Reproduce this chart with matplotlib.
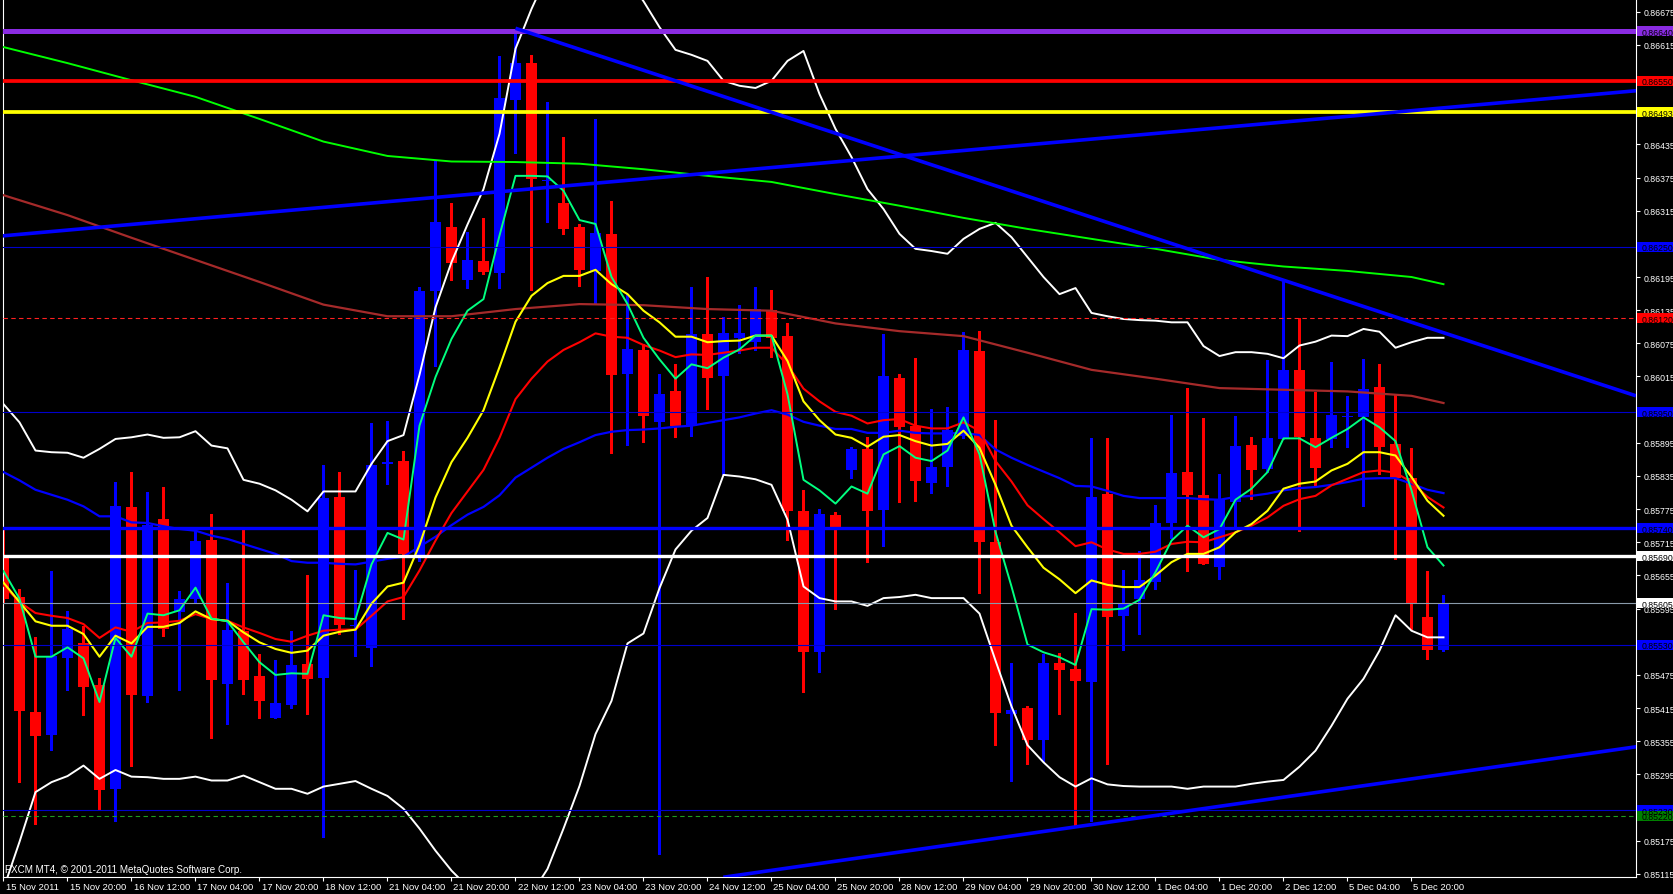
import matplotlib
matplotlib.use("Agg")
import matplotlib.pyplot as plt
from matplotlib.patches import Rectangle
from matplotlib.transforms import offset_copy
import numpy as np

plt.rcParams["font.family"] = ["Liberation Sans", "DejaVu Sans"]

# ---- H4 candles, 15 Nov 2011 .. 6 Dec 2011 ----
opens = [
    0.85690, 0.85616, 0.85408, 0.85367, 0.85506, 0.85532, 0.85457, 0.85268, 0.85779, 0.85436,
    0.85757, 0.85588, 0.85613, 0.85719, 0.85459, 0.85555, 0.85473, 0.85397, 0.85420, 0.85495,
    0.85469, 0.85797, 0.85564, 0.85523, 0.85857, 0.85862, 0.85692, 0.86170, 0.86286, 0.86190,
    0.86224, 0.86203, 0.86515, 0.86582, 0.86368, 0.86329, 0.86286, 0.86206, 0.86273, 0.86020,
    0.86063, 0.85932, 0.85988, 0.85926, 0.86091, 0.86015, 0.86085, 0.86077, 0.86135, 0.86089,
    0.85772, 0.85517, 0.85765, 0.85846, 0.85883, 0.85774, 0.86013, 0.85926, 0.85823, 0.85851,
    0.85907, 0.86061, 0.85716, 0.85405, 0.85416, 0.85358, 0.85496, 0.85485, 0.85462, 0.85802,
    0.85581, 0.85613, 0.85643, 0.85750, 0.85842, 0.85801, 0.85671, 0.85788, 0.85891, 0.85847,
    0.85902, 0.86027, 0.85904, 0.85902, 0.85942, 0.85941, 0.85996, 0.85893, 0.85831, 0.85579,
    0.85520]
highs = [
    0.85739, 0.85631, 0.85544, 0.85663, 0.85591, 0.85564, 0.85469, 0.85824, 0.85842, 0.85806,
    0.85815, 0.85627, 0.85736, 0.85766, 0.85642, 0.85738, 0.85513, 0.85502, 0.85555, 0.85656,
    0.85855, 0.85842, 0.85664, 0.85931, 0.85934, 0.85880, 0.86177, 0.86405, 0.86329, 0.86276,
    0.86301, 0.86594, 0.86637, 0.86597, 0.86512, 0.86449, 0.86291, 0.86481, 0.86332, 0.86164,
    0.86074, 0.86020, 0.86038, 0.86177, 0.86195, 0.86123, 0.86144, 0.86177, 0.86172, 0.86111,
    0.85809, 0.85775, 0.85769, 0.85888, 0.85906, 0.86092, 0.86019, 0.86048, 0.85956, 0.85959,
    0.86095, 0.86097, 0.85936, 0.85496, 0.85418, 0.85513, 0.85515, 0.85587, 0.85904, 0.85904,
    0.85665, 0.85699, 0.85783, 0.85945, 0.85994, 0.85940, 0.85839, 0.85943, 0.85905, 0.86044,
    0.86188, 0.86120, 0.85987, 0.86041, 0.85979, 0.86047, 0.86038, 0.85983, 0.85885, 0.85663,
    0.85620]
lows = [
    0.85607, 0.85282, 0.85206, 0.85340, 0.85447, 0.85403, 0.85231, 0.85211, 0.85311, 0.85426,
    0.85546, 0.85447, 0.85607, 0.85361, 0.85386, 0.85441, 0.85397, 0.85397, 0.85415, 0.85405,
    0.85182, 0.85549, 0.85510, 0.85492, 0.85821, 0.85576, 0.85681, 0.86034, 0.86190, 0.86175,
    0.86201, 0.86175, 0.86419, 0.86172, 0.86294, 0.86273, 0.86179, 0.86148, 0.85876, 0.85891,
    0.85896, 0.85151, 0.85906, 0.85908, 0.85956, 0.85839, 0.86057, 0.86063, 0.86050, 0.85719,
    0.85445, 0.85481, 0.85595, 0.85831, 0.85680, 0.85708, 0.85787, 0.85790, 0.85805, 0.85817,
    0.85904, 0.85624, 0.85348, 0.85284, 0.85313, 0.85320, 0.85404, 0.85200, 0.85211, 0.85314,
    0.85520, 0.85549, 0.85631, 0.85723, 0.85663, 0.85676, 0.85649, 0.85742, 0.85793, 0.85842,
    0.85902, 0.85736, 0.85815, 0.85887, 0.85887, 0.85781, 0.85839, 0.85684, 0.85558, 0.85503,
    0.85519]
closes = [
    0.85613, 0.85409, 0.85365, 0.85510, 0.85558, 0.85454, 0.85266, 0.85780, 0.85438, 0.85746,
    0.85558, 0.85613, 0.85718, 0.85465, 0.85557, 0.85465, 0.85427, 0.85424, 0.85493, 0.85467,
    0.85795, 0.85566, 0.85566, 0.85855, 0.85860, 0.85693, 0.86170, 0.86295, 0.86220, 0.86225,
    0.86204, 0.86519, 0.86583, 0.86373, 0.86371, 0.86282, 0.86208, 0.86275, 0.86018, 0.86065,
    0.85943, 0.85983, 0.85925, 0.86091, 0.86013, 0.86093, 0.86093, 0.86137, 0.86085, 0.85772,
    0.85516, 0.85767, 0.85737, 0.85883, 0.85772, 0.86016, 0.85923, 0.85825, 0.85851, 0.85918,
    0.86063, 0.85715, 0.85407, 0.85412, 0.85358, 0.85496, 0.85484, 0.85464, 0.85797, 0.85579,
    0.85604, 0.85646, 0.85750, 0.85841, 0.85801, 0.85676, 0.85792, 0.85889, 0.85845, 0.85903,
    0.86026, 0.85906, 0.85850, 0.85945, 0.85944, 0.85992, 0.85888, 0.85831, 0.85604, 0.85520,
    0.85605]

# ---- indicator lines (one value per bar) ----
ma_fast = [
    0.85663, 0.85613, 0.85508, 0.85508, 0.85525, 0.85505, 0.85426, 0.85542, 0.85508, 0.85586,
    0.85583, 0.85592, 0.85633, 0.85577, 0.85572, 0.85534, 0.85498, 0.85475, 0.85478, 0.85477,
    0.85583, 0.85578, 0.85576, 0.85675, 0.85732, 0.85720, 0.85926, 0.86014, 0.86083, 0.86134,
    0.86155, 0.86270, 0.86378, 0.86378, 0.86377, 0.86351, 0.86298, 0.86291, 0.86195, 0.86146,
    0.86085, 0.86046, 0.86011, 0.86037, 0.86030, 0.86049, 0.86064, 0.86089, 0.86089, 0.85983,
    0.85828, 0.85809, 0.85785, 0.85816, 0.85803, 0.85874, 0.85889, 0.85868, 0.85862, 0.85881,
    0.85941, 0.85874, 0.85734, 0.85635, 0.85530, 0.85516, 0.85507, 0.85493, 0.85594, 0.85593,
    0.85595, 0.85611, 0.85661, 0.85718, 0.85745, 0.85724, 0.85739, 0.85792, 0.85812, 0.85842,
    0.85903, 0.85903, 0.85887, 0.85904, 0.85920, 0.85941, 0.85923, 0.85898, 0.85809, 0.85706,
    0.85673]
ma_yellow = [
    0.85642, 0.85607, 0.85572, 0.85564, 0.85564, 0.85549, 0.85508, 0.85546, 0.85532, 0.85562,
    0.85562, 0.85569, 0.85590, 0.85576, 0.85573, 0.85552, 0.85534, 0.85522, 0.85515, 0.85519,
    0.85546, 0.85553, 0.85557, 0.85604, 0.85635, 0.85642, 0.85710, 0.85796, 0.85860, 0.85904,
    0.85954, 0.86032, 0.86114, 0.86161, 0.86184, 0.86197, 0.86197, 0.86208, 0.86182, 0.86164,
    0.86134, 0.86113, 0.86087, 0.86087, 0.86077, 0.86079, 0.86080, 0.86089, 0.86089, 0.86043,
    0.85970, 0.85936, 0.85910, 0.85904, 0.85888, 0.85906, 0.85909, 0.85898, 0.85890, 0.85893,
    0.85917, 0.85886, 0.85819, 0.85745, 0.85706, 0.85669, 0.85648, 0.85623, 0.85646, 0.85638,
    0.85634, 0.85634, 0.85655, 0.85679, 0.85694, 0.85694, 0.85706, 0.85733, 0.85748, 0.85772,
    0.85812, 0.85821, 0.85825, 0.85845, 0.85857, 0.85878, 0.85878, 0.85872, 0.85833, 0.85790,
    0.85763]
ma_red = [
    0.85637, 0.85607, 0.85587, 0.85582, 0.85578, 0.85567, 0.85542, 0.85561, 0.85553, 0.85569,
    0.85570, 0.85573, 0.85585, 0.85576, 0.85573, 0.85561, 0.85551, 0.85540, 0.85535, 0.85546,
    0.85555, 0.85557, 0.85557, 0.85582, 0.85608, 0.85616, 0.85664, 0.85718, 0.85768, 0.85807,
    0.85846, 0.85904, 0.85974, 0.86011, 0.86042, 0.86063, 0.86077, 0.86093, 0.86087, 0.86085,
    0.86072, 0.86062, 0.86050, 0.86055, 0.86054, 0.86058, 0.86062, 0.86067, 0.86067, 0.86036,
    0.85993, 0.85970, 0.85951, 0.85944, 0.85930, 0.85936, 0.85938, 0.85926, 0.85921, 0.85921,
    0.85932, 0.85917, 0.85862, 0.85825, 0.85782, 0.85757, 0.85733, 0.85708, 0.85715, 0.85702,
    0.85694, 0.85694, 0.85698, 0.85712, 0.85716, 0.85715, 0.85724, 0.85733, 0.85745, 0.85760,
    0.85781, 0.85793, 0.85799, 0.85818, 0.85830, 0.85842, 0.85845, 0.85841, 0.85824, 0.85797,
    0.85778]
ma_blue = [
    0.85842, 0.85827, 0.85810, 0.85801, 0.85792, 0.85780, 0.85762, 0.85762, 0.85751, 0.85750,
    0.85744, 0.85739, 0.85736, 0.85727, 0.85721, 0.85712, 0.85703, 0.85694, 0.85681, 0.85678,
    0.85678, 0.85676, 0.85675, 0.85680, 0.85685, 0.85689, 0.85707, 0.85725, 0.85746, 0.85765,
    0.85779, 0.85800, 0.85832, 0.85850, 0.85868, 0.85884, 0.85896, 0.85909, 0.85915, 0.85918,
    0.85919, 0.85921, 0.85924, 0.85926, 0.85931, 0.85936, 0.85941, 0.85948, 0.85954, 0.85946,
    0.85933, 0.85926, 0.85920, 0.85920, 0.85913, 0.85913, 0.85917, 0.85913, 0.85912, 0.85912,
    0.85913, 0.85909, 0.85883, 0.85868, 0.85855, 0.85843, 0.85831, 0.85817, 0.85816, 0.85808,
    0.85799, 0.85795, 0.85795, 0.85795, 0.85795, 0.85793, 0.85792, 0.85797, 0.85799, 0.85803,
    0.85809, 0.85813, 0.85815, 0.85819, 0.85824, 0.85830, 0.85831, 0.85831, 0.85821, 0.85810,
    0.85804]
bb_upper = [
    0.85965, 0.85932, 0.85881, 0.85878, 0.85877, 0.85868, 0.85884, 0.85902, 0.85905, 0.85910,
    0.85904, 0.85905, 0.85916, 0.85890, 0.85885, 0.85828, 0.85821, 0.85809, 0.85792, 0.85771,
    0.85807, 0.85807, 0.85807, 0.85857, 0.85898, 0.85909, 0.86018, 0.86140, 0.86222, 0.86290,
    0.86354, 0.86454, 0.86608, 0.86680, 0.86743, 0.86767, 0.86779, 0.86779, 0.86767, 0.86734,
    0.86694, 0.86647, 0.86606, 0.86597, 0.86586, 0.86550, 0.86541, 0.86537, 0.86550, 0.86586,
    0.86604, 0.86526, 0.86463, 0.86412, 0.86354, 0.86318, 0.86273, 0.86246, 0.86242, 0.86237,
    0.86264, 0.86282, 0.86293, 0.86267, 0.86231, 0.86195, 0.86164, 0.86175, 0.86130, 0.86124,
    0.86119, 0.86117, 0.86116, 0.86113, 0.86113, 0.86070, 0.86052, 0.86059, 0.86059, 0.86056,
    0.86048, 0.86071, 0.86078, 0.86089, 0.86088, 0.86101, 0.86096, 0.86067, 0.86077, 0.86085,
    0.86085]
bb_lower = [
    0.85088, 0.85173, 0.85263, 0.85281, 0.85292, 0.85311, 0.85287, 0.85303, 0.85291, 0.85290,
    0.85287, 0.85287, 0.85291, 0.85284, 0.85284, 0.85293, 0.85281, 0.85269, 0.85269, 0.85260,
    0.85273, 0.85278, 0.85283, 0.85269, 0.85256, 0.85233, 0.85197, 0.85157, 0.85121, 0.85092,
    0.85070, 0.85061, 0.85061, 0.85079, 0.85124, 0.85197, 0.85274, 0.85368, 0.85428, 0.85532,
    0.85550, 0.85632, 0.85702, 0.85736, 0.85759, 0.85837, 0.85834, 0.85829, 0.85819, 0.85756,
    0.85635, 0.85614, 0.85608, 0.85608, 0.85600, 0.85614, 0.85616, 0.85620, 0.85614, 0.85614,
    0.85614, 0.85586, 0.85501, 0.85418, 0.85348, 0.85317, 0.85290, 0.85273, 0.85288, 0.85277,
    0.85274, 0.85273, 0.85273, 0.85273, 0.85269, 0.85273, 0.85273, 0.85273, 0.85278, 0.85282,
    0.85285, 0.85309, 0.85338, 0.85383, 0.85432, 0.85468, 0.85519, 0.85583, 0.85555, 0.85543,
    0.85543]

# slow averages, read every fourth bar
slow_bars = [0, 4, 8, 12, 16, 20, 24, 28, 32, 36, 40, 44, 48, 52, 56, 60, 64, 68, 72, 76, 80, 84, 88, 90]
ma_brown = [0.86343, 0.86307, 0.86266, 0.86226, 0.86186, 0.86145, 0.86124, 0.86124, 0.86137, 0.86146,
            0.86144, 0.86137, 0.86134, 0.86111, 0.86097, 0.86088, 0.86058, 0.86027, 0.86011, 0.85994,
            0.85991, 0.85988, 0.85980, 0.85967]
ma_green = [0.86611, 0.86582, 0.86551, 0.86521, 0.86481, 0.86440, 0.86414, 0.86404, 0.86403, 0.86400,
            0.86390, 0.86378, 0.86367, 0.86345, 0.86324, 0.86302, 0.86282, 0.86264, 0.86246, 0.86226,
            0.86214, 0.86206, 0.86195, 0.86182]

# ---- chart objects ----
level_prices = [0.86640, 0.86550, 0.86493, 0.86250, 0.86120, 0.85950, 0.85740, 0.85690, 0.85605, 0.85530, 0.85230, 0.85220]
level_colors = ["#8a2be2", "#ff0000", "#ffff00", "#0000cd", "#ff2020", "#0000cd", "#0000ff", "#ffffff", "#8a9aaa", "#0000cd", "#0000cd", "#1f9a1f"]
level_widths = [3.6, 2.7, 2.7, 0.8, 0.8, 0.8, 2.4, 2.4, 0.8, 0.8, 0.8, 0.8]
level_dashed = [False, False, False, False, True, False, False, False, False, False, False, True]
box_colors = ["#8a2be2", "#ff0000", "#ffff00", "#0000ff", "#ff0000", "#0000ff", "#0000ff", "#ffffff", "#ffffff", "#0000ff", "#0000ff", "#008000"]

# trend lines: two anchor points (bar, price) each
trend_up = [(-0.22, 0.86269), (102.03, 0.86532)]
trend_down = [(32.0, 0.86645), (102.03, 0.85980)]
trend_low = [(45.97, 0.85113), (102.03, 0.85345)]

tick_prices = [round(0.86675 - 0.0006 * i, 5) for i in range(27)]
time_labels = ["15 Nov 2011", "15 Nov 20:00", "16 Nov 12:00", "17 Nov 04:00", "17 Nov 20:00",
               "18 Nov 12:00", "21 Nov 04:00", "21 Nov 20:00", "22 Nov 12:00", "23 Nov 04:00",
               "23 Nov 20:00", "24 Nov 12:00", "25 Nov 04:00", "25 Nov 20:00", "28 Nov 12:00",
               "29 Nov 04:00", "29 Nov 20:00", "30 Nov 12:00", "1 Dec 04:00", "1 Dec 20:00",
               "2 Dec 12:00", "5 Dec 04:00", "5 Dec 20:00"]
time_label_bars = list(range(0, 4 * len(time_labels), 4))

# ---- figure ----
W, H = 1674, 895
fig = plt.figure(figsize=(W / 100, H / 100), dpi=100, facecolor="black")
left_px, right_px, bottom_px = 3, 1636.5, 878
ax = fig.add_axes([left_px / W, (H - bottom_px) / H, (right_px - left_px) / W, bottom_px / H])
ax.set_facecolor("black")
bar_px = 16
ax.set_xlim((left_px - 3.5) / bar_px, (right_px - 3.5) / bar_px)
ax.set_ylim(0.851094, 0.866980)
px_per_price = bottom_px / (0.866980 - 0.851094)

k = np.arange(len(closes))
o, hi, lo, c = (np.array(v) for v in (opens, highs, lows, closes))
colors = np.where(c >= o, "#0000ff", "#ff0000")
ax.vlines(k, lo, hi, colors=colors, lw=0.75, zorder=2, antialiased=False)
body_low = np.minimum(o, c)
body_h = np.maximum(np.abs(c - o), 1.2 / px_per_price)
ax.bar(k, body_h, bottom=body_low, width=11 / bar_px, color=colors, lw=0, zorder=2.1)

ax.plot(k, bb_upper, color="white", lw=1.4, zorder=3)
ax.plot(k, bb_lower, color="white", lw=1.4, zorder=3)
ax.plot(slow_bars, ma_green, color="#00ff00", lw=1.4, zorder=3)
ax.plot(slow_bars, ma_brown, color="#a52a2a", lw=1.6, zorder=3)
ax.plot(k, ma_blue, color="#0000ff", lw=1.6, zorder=3)
ax.plot(k, ma_red, color="#ff0000", lw=1.5, zorder=3)
ax.plot(k, ma_yellow, color="#ffff00", lw=1.5, zorder=3)
ax.plot(k, ma_fast, color="#00ff7f", lw=1.4, zorder=3)

for p, col, lw, dashed in zip(level_prices, level_colors, level_widths, level_dashed):
    ax.axhline(p, color=col, lw=lw, ls=(0, (4, 3)) if dashed else "-", zorder=4)

ax.axline(*trend_up, color="#0000ff", lw=2.6, zorder=4)
ax.plot(*zip(*trend_down), color="#0000ff", lw=2.6, zorder=4, solid_capstyle="butt")
ax.axline(*trend_low, color="#0000ff", lw=2.6, zorder=4)

# right price scale
ax.yaxis.tick_right()
ax.set_yticks(tick_prices)
ax.set_yticklabels([f"{t:.5f}" for t in tick_prices])
ax.tick_params(axis="y", colors="white", length=3, width=0.8, pad=2.3, labelsize=6.3)
ax.set_xticks(time_label_bars)
ax.tick_params(axis="x", colors="white", length=3, width=0.8, labelbottom=False)
for side in ("left", "right", "bottom"):
    ax.spines[side].set_color("white")
    ax.spines[side].set_linewidth(0.8)
ax.spines["top"].set_visible(False)

ax_w = right_px - left_px
ytrans = ax.get_yaxis_transform()
box_h = 10 / px_per_price
for p, bc in zip(level_prices, box_colors):
    ax.add_patch(Rectangle((1 + 1 / ax_w, p - box_h / 2), 40 / ax_w, box_h, transform=ytrans,
                           facecolor=bc, edgecolor="none", clip_on=False, zorder=6))
    ax.text(1 + 5.5 / ax_w, p, f"{p:.5f}", transform=ytrans, color="black", fontsize=6.3,
            va="center_baseline", ha="left", clip_on=False, zorder=7)

tlab = offset_copy(ax.get_xaxis_transform(), fig=fig, x=2, y=-10, units="dots")
for b, lab in zip(time_label_bars, time_labels):
    ax.text(b, 0, lab, transform=tlab, color="white", fontsize=6.8, va="center", ha="left", clip_on=False)

ax.text(2 / ax_w, 8 / bottom_px, "FXCM MT4, \u00a9 2001-2011 MetaQuotes Software Corp.",
        transform=ax.transAxes, color="white", fontsize=7.1, va="center", ha="left", zorder=8)

fig.savefig("out.png", dpi=100, facecolor="black")
